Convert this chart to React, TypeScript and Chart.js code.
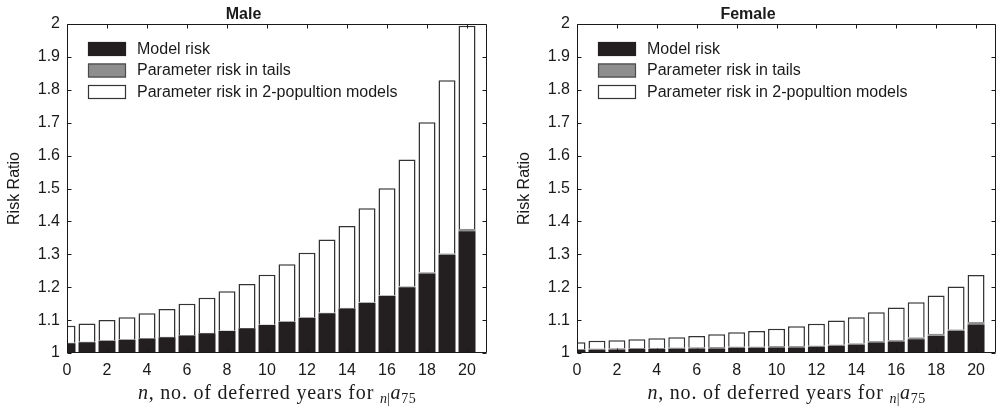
import React, { useEffect, useRef } from 'react';
import { Chart, registerables } from 'chart.js';

Chart.register(...registerables);

// ---- Data ----
const years = [0, 1, 2, 3, 4, 5, 6, 7, 8, 9, 10, 11, 12, 13, 14, 15, 16, 17, 18, 19, 20];
const xTickValues = [0, 2, 4, 6, 8, 10, 12, 14, 16, 18, 20];
const yTickValues = [1, 1.1, 1.2, 1.3, 1.4, 1.5, 1.6, 1.7, 1.8, 1.9, 2];
const seriesNames = ['Model risk', 'Parameter risk in tails', 'Parameter risk in 2-popultion models'];
const panelTitles = ['Male', 'Female'];
const yAxisTitle = 'Risk Ratio';
const xTitleParts = ['n', ', no. of deferred years for ', 'n', '|', 'a', '75'];

// cumulative levels (top of each stacked segment)
const maleModel = [1.030, 1.033, 1.037, 1.040, 1.044, 1.048, 1.053, 1.060, 1.067, 1.075, 1.085, 1.095, 1.107, 1.121, 1.135, 1.152, 1.173, 1.200, 1.242, 1.298, 1.370];
const maleTails = [1.031, 1.034, 1.038, 1.041, 1.045, 1.049, 1.054, 1.061, 1.068, 1.076, 1.086, 1.096, 1.108, 1.122, 1.137, 1.154, 1.175, 1.202, 1.245, 1.302, 1.377];
const maleTotal = [1.083, 1.090, 1.100, 1.109, 1.121, 1.134, 1.150, 1.168, 1.188, 1.210, 1.238, 1.270, 1.305, 1.345, 1.386, 1.440, 1.501, 1.588, 1.701, 1.829, 1.995];

const femaleModel = [1.010, 1.010, 1.011, 1.012, 1.012, 1.013, 1.014, 1.014, 1.015, 1.015, 1.017, 1.017, 1.018, 1.021, 1.025, 1.032, 1.035, 1.042, 1.052, 1.067, 1.087];
const femaleTails = [1.012, 1.013, 1.014, 1.015, 1.015, 1.016, 1.017, 1.018, 1.019, 1.019, 1.021, 1.021, 1.022, 1.025, 1.029, 1.036, 1.039, 1.047, 1.058, 1.071, 1.094];
const femaleTotal = [1.033, 1.037, 1.039, 1.042, 1.045, 1.048, 1.052, 1.057, 1.063, 1.067, 1.074, 1.081, 1.089, 1.099, 1.109, 1.124, 1.138, 1.154, 1.175, 1.202, 1.237];

// ---- Styles ----
const SANS = '"Liberation Sans", Arial, Helvetica, sans-serif';
const SERIF = '"Liberation Serif", "Times New Roman", serif';
const INK = '#1a1a1a';
const BLACK = '#231f20';
const GRAY = '#8e8e8e';
const WHITE = '#ffffff';

const framePlugin = {
  id: 'frameAndLegend',
  afterDatasetsDraw(chart: any) {
    const { ctx, chartArea: a, scales } = chart;
    const xs = scales.x;
    const ys = scales.y;
    const L = Math.round(a.left) + 0.5;
    const R = Math.round(a.right) - 0.5;
    const T = Math.round(a.top) + 0.5;
    const B = Math.round(a.bottom) - 0.5;
    ctx.save();
    ctx.strokeStyle = INK;
    ctx.lineWidth = 1;
    ctx.beginPath();
    ctx.moveTo(L, T);
    ctx.lineTo(R, T);
    ctx.lineTo(R, B);
    ctx.lineTo(L, B);
    ctx.closePath();
    ctx.stroke();
    const tl = 4;
    ctx.beginPath();
    for (const v of xTickValues) {
      const px = Math.round(xs.getPixelForValue(v)) + 0.5;
      ctx.moveTo(px, B);
      ctx.lineTo(px, B - tl);
      ctx.moveTo(px, T);
      ctx.lineTo(px, T + tl);
    }
    for (const v of yTickValues) {
      const py = Math.round(ys.getPixelForValue(v)) + 0.5;
      ctx.moveTo(L, py);
      ctx.lineTo(L + tl, py);
      ctx.moveTo(R, py);
      ctx.lineTo(R - tl, py);
    }
    ctx.stroke();

    // legend (inside plot, top-left)
    const fills = [BLACK, GRAY, WHITE];
    const strokes = [BLACK, '#4a4a4a', '#333333'];
    const bx = a.left + 21;
    const by0 = a.top + 18;
    const bw = 38;
    const bh = 14;
    const rowH = 21.5;
    ctx.font = `16px ${SANS}`;
    ctx.textBaseline = 'middle';
    ctx.textAlign = 'left';
    seriesNames.forEach((name, i) => {
      const by = by0 + i * rowH;
      ctx.fillStyle = fills[i];
      ctx.fillRect(bx, by, bw, bh);
      ctx.strokeStyle = strokes[i];
      ctx.lineWidth = 1.2;
      ctx.strokeRect(bx + 0.5, by + 0.5, bw - 1, bh - 1);
      ctx.fillStyle = INK;
      ctx.fillText(name, bx + 49, by + bh / 2 + 0.5);
    });

    // x-axis title with math notation
    const big = 20;
    const small = 14;
    const fonts = [
      `italic ${big}px ${SERIF}`,
      `${big}px ${SERIF}`,
      `italic ${small}px ${SERIF}`,
      `${small}px ${SERIF}`,
      `italic ${big}px ${SERIF}`,
      `${small}px ${SERIF}`,
    ];
    const dys = [0, 0, 4, 4, 0, 4];
    const spacing = ['0.8px', '0.8px', '0.4px', '0.4px', '0.8px', '0.4px'];
    let total = 0;
    const widths = xTitleParts.map((t, i) => {
      ctx.font = fonts[i];
      (ctx as any).letterSpacing = spacing[i];
      const w = ctx.measureText(t).width;
      total += w;
      return w;
    });
    let x = (a.left + a.right) / 2 - total / 2;
    const baseline = a.bottom + 46;
    ctx.textBaseline = 'alphabetic';
    ctx.fillStyle = INK;
    xTitleParts.forEach((t, i) => {
      ctx.font = fonts[i];
      (ctx as any).letterSpacing = spacing[i];
      ctx.fillText(t, x, baseline + dys[i]);
      x += widths[i];
    });
    (ctx as any).letterSpacing = '0px';
    ctx.restore();
  },
};

function buildConfig(title: string, model: number[], tails: number[], total: number[], yAxisWidth: number, padRight: number, yTitlePad: number) {
  const modelData = years.map((x, i) => ({ x, y: model[i] }));
  const tailData = years.map((x, i) => ({ x, y: tails[i] - model[i] }));
  const twoPopData = years.map((x, i) => ({ x, y: total[i] - tails[i] }));
  const tickFont = { family: SANS, size: 16 };
  return {
    type: 'bar' as const,
    data: {
      datasets: [
        { label: seriesNames[0], data: modelData, backgroundColor: BLACK, borderColor: BLACK, borderWidth: 0 },
        { label: seriesNames[1], data: tailData, backgroundColor: GRAY, borderColor: '#555555', borderWidth: 0 },
        { label: seriesNames[2], data: twoPopData, backgroundColor: WHITE, borderColor: '#333333', borderWidth: 1.5 },
      ],
    },
    options: {
      responsive: false,
      animation: false as const,
      devicePixelRatio: 1,
      datasets: { bar: { barPercentage: 0.85, categoryPercentage: 1 } },
      layout: { padding: { left: 0, right: padRight, top: 0, bottom: 0 } },
      plugins: {
        legend: { display: false },
        tooltip: { enabled: false },
        title: {
          display: true,
          text: title,
          color: INK,
          font: { family: SANS, size: 16, weight: 'bold' as const, lineHeight: 1 },
          padding: { top: 7, bottom: 1 },
        },
      },
      scales: {
        x: {
          type: 'linear' as const,
          min: 0,
          max: 21,
          offset: false,
          stacked: true,
          grid: { display: false, drawTicks: false, offset: false },
          border: { display: false },
          ticks: { font: tickFont, color: INK, padding: 8, maxRotation: 0, autoSkip: false, includeBounds: false },
          afterBuildTicks: (s: any) => {
            s.ticks = xTickValues.map((v) => ({ value: v }));
          },
          afterFit: (s: any) => {
            s.height = 59;
          },
        },
        y: {
          type: 'linear' as const,
          min: 1,
          max: 2,
          stacked: true,
          grid: { display: false, drawTicks: false },
          border: { display: false },
          ticks: {
            font: tickFont,
            color: INK,
            padding: 7,
            callback: (v: any) => String(Math.round(Number(v) * 10) / 10),
          },
          afterBuildTicks: (s: any) => {
            s.ticks = yTickValues.map((v) => ({ value: v }));
          },
          afterFit: (s: any) => {
            s.width = yAxisWidth;
          },
          title: {
            display: true,
            text: yAxisTitle,
            color: INK,
            font: { family: SANS, size: 16 },
            padding: { top: yTitlePad, bottom: 0 },
          },
        },
      },
    },
    plugins: [framePlugin],
  };
}

export default function App() {
  const leftRef = useRef<HTMLCanvasElement>(null);
  const rightRef = useRef<HTMLCanvasElement>(null);

  useEffect(() => {
    const c1 = new Chart(leftRef.current as HTMLCanvasElement, buildConfig(panelTitles[0], maleModel, maleTails, maleTotal, 67, 13, 5) as any);
    const c2 = new Chart(rightRef.current as HTMLCanvasElement, buildConfig(panelTitles[1], femaleModel, femaleTails, femaleTotal, 77, 3, 15) as any);
    return () => {
      c1.destroy();
      c2.destroy();
    };
  }, []);

  return (
    <div style={{ position: 'absolute', left: 0, top: 0, width: 999, height: 412, background: '#fff', display: 'flex' }}>
      <canvas ref={leftRef} width={500} height={412} style={{ display: 'block', width: 500, height: 412 }} />
      <canvas ref={rightRef} width={499} height={412} style={{ display: 'block', width: 499, height: 412 }} />
    </div>
  );
}
